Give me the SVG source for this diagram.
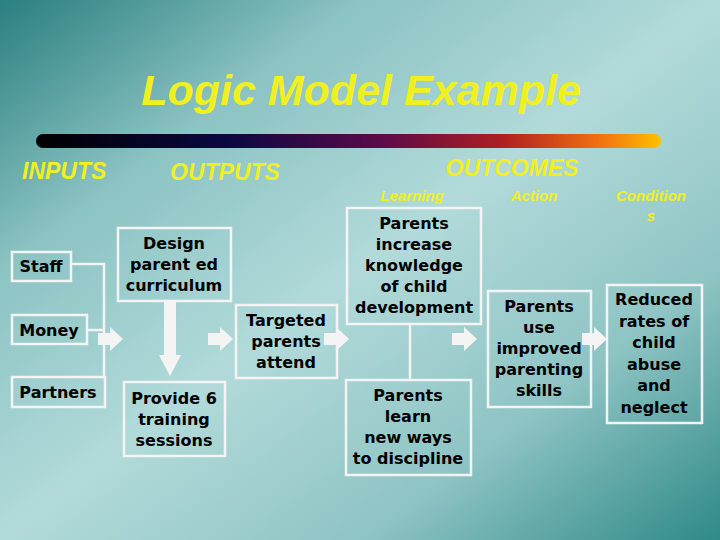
<svg xmlns="http://www.w3.org/2000/svg" width="720" height="540" viewBox="0 0 720 540">
<defs>
<linearGradient id="bg" x1="0" y1="0" x2="1" y2="1">
<stop offset="0" stop-color="#2a7f80"/><stop offset="0.25" stop-color="#8cc3c3"/><stop offset="0.5" stop-color="#b2dada"/><stop offset="0.75" stop-color="#8fc4c4"/><stop offset="1" stop-color="#2e8a88"/>
</linearGradient>
<linearGradient id="bar" x1="0" y1="0" x2="1" y2="0">
<stop offset="0" stop-color="#000"/><stop offset="0.3" stop-color="#0a0840"/><stop offset="0.55" stop-color="#5a0a4a"/><stop offset="0.75" stop-color="#b02020"/><stop offset="0.9" stop-color="#f07010"/><stop offset="1" stop-color="#ffc000"/>
</linearGradient>
<path id="arr" d="M0,-6 H12 V-12 L25,0 L12,12 V6 H0 Z" fill="#f4f4f4"/>
</defs>
<style>
.box{fill:none;stroke:#f4f4f4;stroke-width:2.5}
.t{font-family:"DejaVu Sans",Verdana,sans-serif;font-weight:bold;font-size:16px;fill:#000;text-anchor:middle}
.h{font-family:"Liberation Sans",Arial,sans-serif;font-weight:bold;font-style:italic;fill:#f0f020}
.ln{stroke:#f4f4f4;stroke-width:2.5;fill:none}
</style>
<rect width="720" height="540" fill="url(#bg)"/>
<text class="h" x="361" y="105" font-size="43" text-anchor="middle" fill="#f0e820">Logic Model Example</text>
<rect x="36" y="134" width="625" height="14" rx="7" fill="url(#bar)"/>
<text class="h" x="22" y="179" font-size="23">INPUTS</text>
<text class="h" x="170" y="180" font-size="23">OUTPUTS</text>
<text class="h" x="512" y="176" font-size="23" text-anchor="middle">OUTCOMES</text>
<g>
<text class="h" x="412" y="201" font-size="15" text-anchor="middle" font-weight="normal">Learning</text>
<text class="h" x="534" y="201" font-size="15" text-anchor="middle" font-weight="normal">Action</text>
<text class="h" x="651" y="201" font-size="15" text-anchor="middle" font-weight="normal">Condition</text>
<text class="h" x="651" y="221" font-size="15" text-anchor="middle" font-weight="normal">s</text>
</g>
<g id="connectors">
<path class="ln" d="M71,264 H104 V378 M87,330 H104 M410,324 V380"/>
<use href="#arr" x="98" y="339"/>
<use href="#arr" x="208" y="339"/>
<use href="#arr" x="324" y="339"/>
<use href="#arr" x="452" y="339"/>
<use href="#arr" x="582" y="339"/>
<path d="M164,301 H176 V355 H181 L170,376 L159,355 H164 Z" fill="#f4f4f4"/>
</g>
<g id="staff"><rect class="box" x="12" y="252" width="59" height="29"/><text class="t" x="41" y="272">Staff</text></g>
<g id="money"><rect class="box" x="12" y="315" width="75" height="29"/><text class="t" x="49" y="336">Money</text></g>
<g id="partners"><rect class="box" x="12" y="377" width="93" height="30"/><text class="t" x="58" y="398">Partners</text></g>
<g id="design"><rect class="box" x="118" y="228" width="113" height="73"/><text class="t" x="174" y="249">Design<tspan x="174" dy="21">parent ed</tspan><tspan x="174" dy="21">curriculum</tspan></text></g>
<g id="provide"><rect class="box" x="124" y="382" width="101" height="74"/><text class="t" x="174" y="404">Provide 6<tspan x="174" dy="21">training</tspan><tspan x="174" dy="21">sessions</tspan></text></g>
<g id="targeted"><rect class="box" x="236" y="305" width="101" height="73"/><text class="t" x="286" y="326">Targeted<tspan x="286" dy="21">parents</tspan><tspan x="286" dy="21">attend</tspan></text></g>
<g id="increase"><rect class="box" x="347" y="208" width="134" height="116"/><text class="t" x="414" y="229">Parents<tspan x="414" dy="21">increase</tspan><tspan x="414" dy="21">knowledge</tspan><tspan x="414" dy="21">of child</tspan><tspan x="414" dy="21">development</tspan></text></g>
<g id="learn"><rect class="box" x="346" y="380" width="125" height="95"/><text class="t" x="408" y="401">Parents<tspan x="408" dy="21">learn</tspan><tspan x="408" dy="21">new ways</tspan><tspan x="408" dy="21">to discipline</tspan></text></g>
<g id="use"><rect class="box" x="488" y="291" width="103" height="116"/><text class="t" x="539" y="312">Parents<tspan x="539" dy="21">use</tspan><tspan x="539" dy="21">improved</tspan><tspan x="539" dy="21">parenting</tspan><tspan x="539" dy="21">skills</tspan></text></g>
<g id="reduced"><rect class="box" x="607" y="285" width="95" height="138"/><text class="t" x="654" y="305">Reduced<tspan x="654" dy="21.5">rates of</tspan><tspan x="654" dy="21.5">child</tspan><tspan x="654" dy="21.5">abuse</tspan><tspan x="654" dy="21.5">and</tspan><tspan x="654" dy="21.5">neglect</tspan></text></g>
</svg>
